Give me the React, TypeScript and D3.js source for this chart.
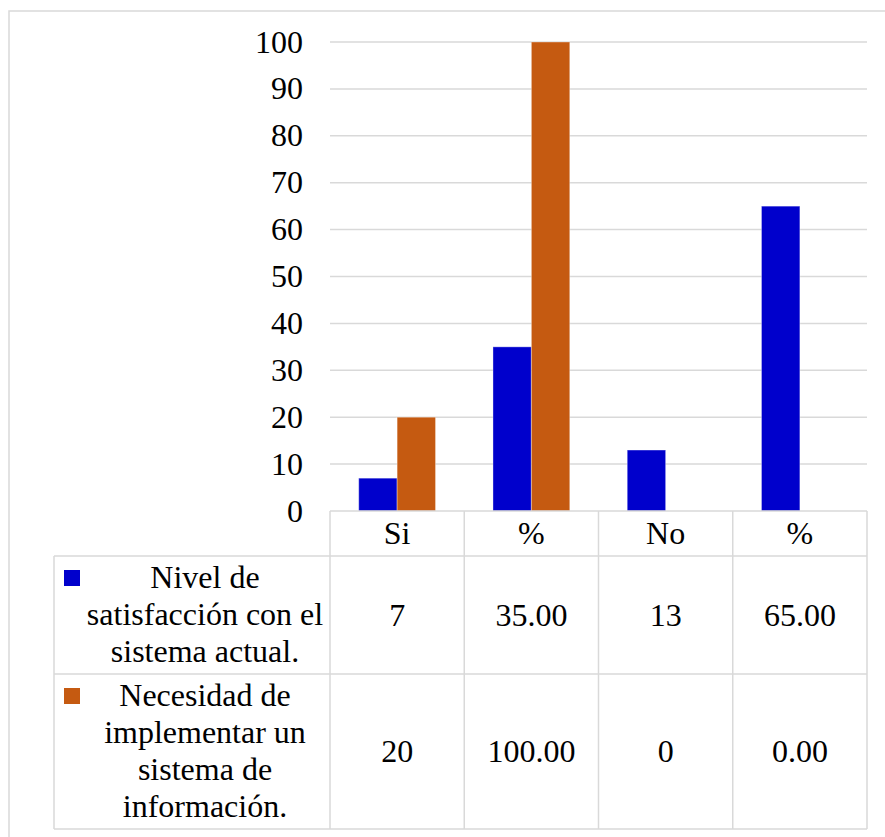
import React from "react";
import * as d3 from "d3";

const categories = ["Si", "%", "No", "%"];
const seriesNames = [
  "Nivel de satisfacción con el sistema actual.",
  "Necesidad de implementar un sistema de información.",
];
const satisfaccion = [7, 35, 13, 65];
const necesidad = [20, 100, 0, 0];
const satisfaccionLabels = ["7", "35.00", "13", "65.00"];
const necesidadLabels = ["20", "100.00", "0", "0.00"];
const legendLines = [
  ["Nivel de", "satisfacción con el", "sistema actual."],
  ["Necesidad de", "implementar un", "sistema de", "información."],
];
const yTicks = [0, 10, 20, 30, 40, 50, 60, 70, 80, 90, 100];
const colors = ["#0000CC", "#C55A11"];

const W = 885;
const H = 837;
const TS: React.CSSProperties = { fontFamily: "Liberation Serif" };
const FS = 32;
const LH = 37;

export default function App() {
  const plotLeft = 330;
  const plotRight = 867;
  const yBottom = 511;
  const yTop = 42;
  const legendLeft = 54;
  const headerBottom = 556;
  const row1Bottom = 674;
  const row2Bottom = 829;

  const x = d3.scaleBand<string>().domain(categories.map((_, i) => String(i))).range([plotLeft, plotRight]).padding(0);
  const bw = x.bandwidth();
  const x1 = d3.scaleBand<string>().domain(["0", "1"]).range([bw * 0.214, bw * 0.786]).padding(0);
  const y = d3.scaleLinear().domain([0, 100]).range([yBottom, yTop]);

  const series = [satisfaccion, necesidad];
  const seriesLabels = [satisfaccionLabels, necesidadLabels];
  const rows = [
    { top: headerBottom, bottom: row1Bottom },
    { top: row1Bottom, bottom: row2Bottom },
  ];
  const grid = "#D9D9D9";
  const colEdges = categories.map((_, i) => x(String(i)) as number).concat([plotRight]);

  return (
    <div style={{ position: "absolute", left: 0, top: 0 }}>
      <svg width={W} height={H} style={{ display: "block" }}>
        <rect x={0} y={0} width={W} height={H} fill="#fff" />
        <rect x={9} y={11} width={W + 20} height={H + 20} fill="none" stroke={grid} strokeWidth={1.5} />
        {yTicks.map((t) => (
          <g key={t}>
            {t !== 0 && (
              <line x1={plotLeft} x2={plotRight} y1={y(t)} y2={y(t)} stroke={grid} strokeWidth={1.5} />
            )}
            <text x={303} y={y(t)} dy="0.33em" textAnchor="end" fontSize={FS} style={TS} fill="#000">
              {t}
            </text>
          </g>
        ))}
        {series.map((vals, si) =>
          vals.map((v, ci) => (
            <rect
              key={`${si}-${ci}`}
              x={(x(String(ci)) as number) + (x1(String(si)) as number)}
              y={y(v)}
              width={x1.bandwidth()}
              height={yBottom - y(v)}
              fill={colors[si]}
              stroke="#ffffff"
              strokeOpacity={0.35}
              strokeWidth={1}
            />
          ))
        )}
        <line x1={plotLeft} x2={plotRight} y1={yBottom} y2={yBottom} stroke={grid} strokeWidth={1.5} />
        {colEdges.map((cx, i) => (
          <line key={i} x1={cx} x2={cx} y1={yBottom} y2={row2Bottom} stroke={grid} strokeWidth={1.5} />
        ))}
        <line x1={legendLeft} x2={legendLeft} y1={headerBottom} y2={row2Bottom} stroke={grid} strokeWidth={1.5} />
        {[headerBottom, row1Bottom, row2Bottom].map((ly, i) => (
          <line key={i} x1={legendLeft} x2={plotRight} y1={ly} y2={ly} stroke={grid} strokeWidth={1.5} />
        ))}
        {categories.map((c, i) => (
          <text
            key={i}
            x={(x(String(i)) as number) + bw / 2}
            y={(yBottom + headerBottom) / 2}
            dy="0.33em"
            textAnchor="middle"
            fontSize={FS}
            style={TS}
          >
            {c}
          </text>
        ))}
        {rows.map((r, si) => {
          const mid = (r.top + r.bottom) / 2;
          const lines = legendLines[si];
          const firstBase = mid + 10 - ((lines.length - 1) * LH) / 2;
          return (
            <g key={si}>
              <rect x={64} y={firstBase - 18} width={16} height={16} fill={colors[si]} />
              <text textAnchor="middle" fontSize={FS} style={TS}>
                {lines.map((ln, li) => (
                  <tspan key={li} x={205} y={firstBase + li * LH}>
                    {ln}
                  </tspan>
                ))}
              </text>
              {seriesLabels[si].map((lab, ci) => (
                <text
                  key={ci}
                  x={(x(String(ci)) as number) + bw / 2}
                  y={mid}
                  dy="0.33em"
                  textAnchor="middle"
                  fontSize={FS}
                  style={TS}
                >
                  {lab}
                </text>
              ))}
            </g>
          );
        })}
        <title>{seriesNames.join(" / ")}</title>
      </svg>
    </div>
  );
}
